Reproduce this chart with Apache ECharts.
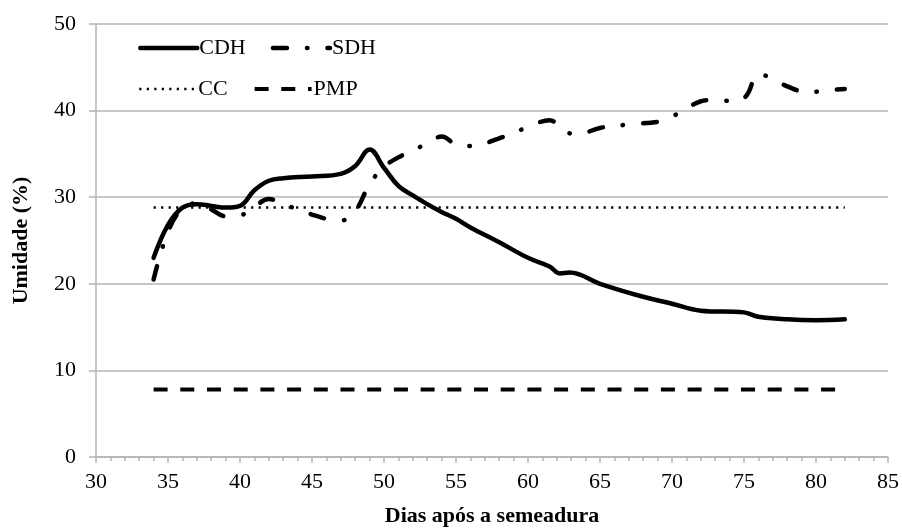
<!DOCTYPE html>
<html>
<head>
<meta charset="utf-8">
<script src="https://cdn.jsdelivr.net/npm/echarts@6/dist/echarts.min.js"></script>
<style>
  html, body { margin: 0; padding: 0; background: #fff; }
  #chart { width: 902px; height: 532px; }
</style>
</head>
<body>
<div id="chart"></div>
<script>
// dias após a semeadura / umidade (%)
const cdh = [
  [34, 23.0], [35, 26.8], [36, 28.8], [37, 29.2], [38, 29.0], [39, 28.8], [40, 29.0],
  [41, 30.8], [42, 31.9], [43, 32.2], [45, 32.4], [47, 32.7], [48, 33.6], [49, 35.5],
  [50, 33.4], [51, 31.3], [52, 30.2], [53, 29.2], [54, 28.3], [55, 27.5], [56, 26.5],
  [58, 24.8], [60, 23.0], [61.5, 22.0], [62.2, 21.2], [62.9, 21.3], [65, 20.0], [68, 18.5],
  [70, 17.7], [72, 16.9], [75, 16.7], [76, 16.2], [78, 15.9], [80, 15.8], [82, 15.9]
]
const sdh = [
  [34, 20.5], [35, 26.0], [36, 28.7], [37, 29.3], [38, 28.6], [39, 27.8], [40, 27.9],
  [41, 28.9], [42, 29.8], [43, 29.2], [44, 28.6], [45, 28.0], [46, 27.5], [47, 27.3],
  [48, 28.4], [49, 31.5], [50, 33.5], [51, 34.6], [52, 35.4], [53, 36.2], [54, 37.0],
  [55, 36.1], [56, 35.9], [58, 36.8], [60, 38.1], [61.5, 38.9], [62.5, 37.6], [63.5, 37.3],
  [65, 38.0], [67, 38.4], [69.5, 38.9], [71, 40.3], [72.5, 41.2], [74.5, 41.1], [75.2, 41.8],
  [76, 44.2], [77, 43.7], [78, 42.8], [79.5, 42.1], [80.5, 42.3], [82, 42.5]
]
const cc = [[34, 28.8], [82, 28.8]]
const pmp = [[34, 7.8], [82, 7.8]]

const font = 'Liberation Serif'
const gray = '#b4b4b4'

const chart = echarts.init(document.getElementById('chart'))

const legendBase = {
  left: 133,
  orient: 'horizontal',
  itemWidth: 57,
  itemHeight: 14,
  itemGap: 25,
  lineStyle: { width: 'inherit' },
  // hide the circle ECharts puts in the middle of line icons
  itemStyle: { color: 'rgba(0,0,0,0)', borderColor: 'rgba(0,0,0,0)', borderWidth: 0 },
  textStyle: { fontFamily: font, fontSize: 22, color: '#000', padding: [0, 0, 0, -3] }
}

chart.setOption({
  animation: false,
  grid: { left: 96, right: 14, top: 24, bottom: 73 },
  legend: [
    Object.assign({ top: 32, data: ['CDH', 'SDH'] }, legendBase),
    Object.assign({ top: 73, data: ['CC', 'PMP'] }, legendBase)
  ],
  xAxis: {
    type: 'value',
    min: 30,
    max: 85,
    interval: 5,
    name: 'Dias após a semeadura',
    nameLocation: 'middle',
    nameGap: 48,
    nameTextStyle: { fontFamily: font, fontSize: 22, fontWeight: 'bold', color: '#000' },
    axisLine: { show: true, lineStyle: { color: gray, width: 1.5 } },
    axisTick: { show: true, length: 6, lineStyle: { color: gray, width: 1.5 } },
    minorTick: { show: true, splitNumber: 5, length: 4, lineStyle: { color: gray, width: 1.5 } },
    splitLine: { show: false },
    axisLabel: { fontFamily: font, fontSize: 22, color: '#000', margin: 14 }
  },
  yAxis: {
    type: 'value',
    min: 0,
    max: 50,
    interval: 10,
    name: 'Umidade (%)',
    nameLocation: 'middle',
    nameGap: 64,
    nameTextStyle: { fontFamily: font, fontSize: 22, fontWeight: 'bold', color: '#000' },
    axisLine: { show: true, lineStyle: { color: gray, width: 1.5 } },
    axisTick: { show: true, length: 7, lineStyle: { color: gray, width: 1.5 } },
    splitLine: { show: true, lineStyle: { color: gray, width: 1.5 } },
    axisLabel: { fontFamily: font, fontSize: 22, color: '#000', margin: 20 }
  },
  series: [
    {
      name: 'CDH',
      type: 'line',
      data: cdh,
      smooth: 0.4,
      showSymbol: false,
      symbol: 'none',
      lineStyle: { color: '#000', width: 4.5, cap: 'round' },
      itemStyle: { color: '#000' },
      z: 5
    },
    {
      name: 'SDH',
      type: 'line',
      data: sdh,
      smooth: 0.4,
      showSymbol: false,
      symbol: 'none',
      lineStyle: { color: '#000', width: 4.5, type: [14, 20, 0.5, 20], cap: 'round' },
      itemStyle: { color: '#000' },
      z: 4
    },
    {
      name: 'CC',
      type: 'line',
      data: cc,
      showSymbol: false,
      symbol: 'none',
      lineStyle: { color: '#000', width: 2.5, type: [2.2, 5.3] },
      itemStyle: { color: '#000' },
      z: 3
    },
    {
      name: 'PMP',
      type: 'line',
      data: pmp,
      showSymbol: false,
      symbol: 'none',
      lineStyle: { color: '#000', width: 4, type: [14, 12.7] },
      itemStyle: { color: '#000' },
      z: 3
    }
  ]
})
</script>
</body>
</html>
